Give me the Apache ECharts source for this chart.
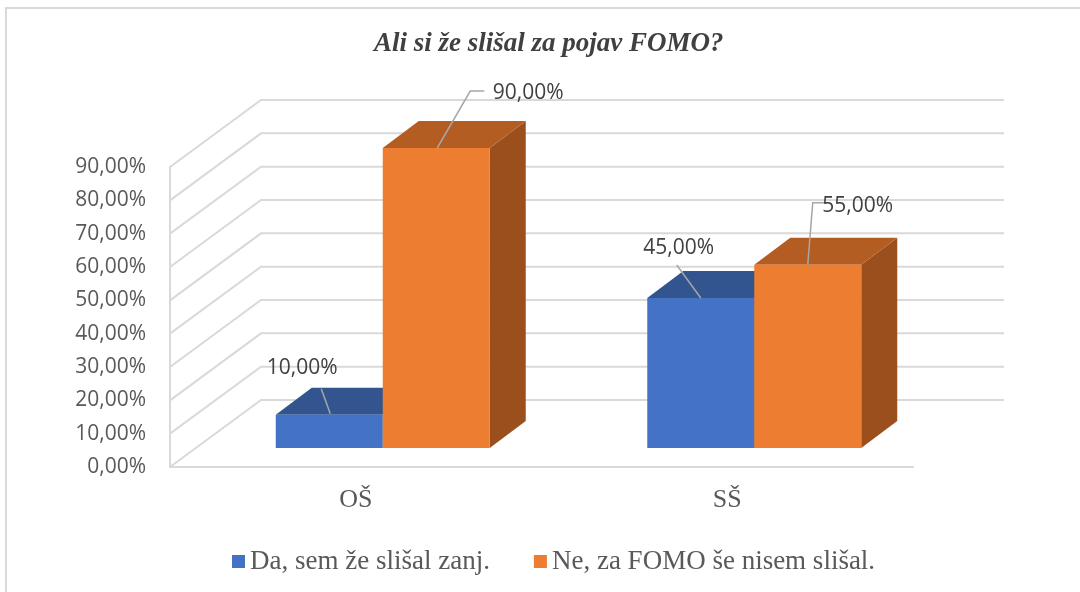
<!DOCTYPE html>
<html>
<head>
<meta charset="utf-8">
<script src="https://cdn.jsdelivr.net/npm/echarts@6/dist/echarts.min.js"></script>
<style>
  html, body { margin: 0; padding: 0; background: #fff; }
  #chart { width: 1080px; height: 592px; }
</style>
</head>
<body>
<div id="chart"></div>
<script>
// data
const categories = ['OŠ', 'SŠ'];
const seriesNames = ['Da, sem že slišal zanj.', 'Ne, za FOMO še nisem slišal.'];
const daValues = [0.10, 0.45];
const neValues = [0.90, 0.55];
const tickValues = [0, 0.1, 0.2, 0.3, 0.4, 0.5, 0.6, 0.7, 0.8, 0.9];

// looks
const wallDepth = [91, -67];     // front wall edge -> back wall
const barShift = [27, -19];      // bars sit a bit into the floor
const barDepth = [36, -27];
const faceColors = [
  { front: '#4472C4', top: '#32558F', side: '#2E4F86' },
  { front: '#ED7D31', top: '#B45D22', side: '#9A4F1D' }
];
// manual label placement (Excel style), offset from front-top centre of bar
const labelOffsets = [
  [{ line: [[1, -1], [-8, -26]], text: [-27, -47] }, { line: [[0, 0], [-24, -33]], text: [-22, -50] }],
  [{ line: [[1, 0], [34, -57], [48, -57]], text: [92, -55] }, { line: [[0, 0], [5, -62], [18, -62]], text: [50, -59] }]
];

const fmt = v => (v * 100).toFixed(2).replace('.', ',') + '%';

const chart = echarts.init(document.getElementById('chart'));

function wallItem(params, api) {
  const cs = params.coordSys;
  const y = api.coord([0, api.value(1)])[1];
  const x0 = cs.x, x1 = cs.x + cs.width;
  return {
    type: 'polyline',
    shape: { points: [[x0, y], [x0 + wallDepth[0], y + wallDepth[1]], [x1 + wallDepth[0], y + wallDepth[1]]] },
    style: { stroke: '#d9d9d9', lineWidth: 2, fill: null },
    silent: true
  };
}

function barItem(si) {
  return function (params, api) {
    const cat = api.value(0), v = api.value(1);
    const base = api.coord([cat, 0]);
    const top = api.coord([cat, v]);
    const bw = api.size([1, 0])[0] * 0.288;
    const x0 = base[0] + barShift[0] - (si === 0 ? bw : 0);
    const x1 = x0 + bw;
    const yb = base[1] + barShift[1];
    const yt = top[1] + barShift[1];
    const dx = barDepth[0], dy = barDepth[1];
    const c = faceColors[si];
    const lo = labelOffsets[si][params.dataIndex];
    const cx = (x0 + x1) / 2;
    return {
      type: 'group',
      children: [
        { type: 'polygon', shape: { points: [[x1, yt], [x1 + dx, yt + dy], [x1 + dx, yb + dy], [x1, yb]] }, style: { fill: c.side } },
        { type: 'polygon', shape: { points: [[x0, yt], [x1, yt], [x1 + dx, yt + dy], [x0 + dx, yt + dy]] }, style: { fill: c.top } },
        { type: 'rect', shape: { x: x0, y: yt, width: bw, height: yb - yt }, style: { fill: c.front } },
        { type: 'polyline', shape: { points: lo.line.map(p => [cx + p[0], yt + p[1]]) }, style: { stroke: '#a6a6a6', lineWidth: 1.5, fill: null } },
        {
          type: 'text', x: cx + lo.text[0], y: yt + lo.text[1],
          style: { text: fmt(v), fill: '#404040', font: '21px "Open Sans"', align: 'center', verticalAlign: 'middle' }
        }
      ]
    };
  };
}

chart.setOption({
  animation: false,
  title: {
    text: 'Ali si že slišal za pojav FOMO?',
    left: 374, top: 31, padding: 0,
    textStyle: { fontFamily: 'Liberation Serif', fontStyle: 'italic', fontWeight: 'bold', fontSize: 27, color: '#404040' }
  },
  legend: {
    left: 232, top: 548, padding: 0, itemGap: 44,
    itemWidth: 13, itemHeight: 13, icon: 'rect',
    data: seriesNames,
    textStyle: { fontFamily: 'Liberation Serif', fontSize: 27, color: '#595959' }
  },
  graphic: [{
    type: 'rect', shape: { x: 6, y: 8, width: 1200, height: 700 },
    style: { fill: null, stroke: '#d9d9d9', lineWidth: 2 }, silent: true
  }],
  grid: { left: 170, right: 167, top: 167, bottom: 125 },
  xAxis: {
    type: 'category', data: categories,
    axisLine: { lineStyle: { color: '#d9d9d9', width: 2 } },
    axisTick: { show: false },
    axisLabel: { margin: 20, fontFamily: 'Liberation Serif', fontSize: 26, color: '#595959' }
  },
  yAxis: {
    type: 'value', min: 0, max: 0.9, interval: 0.1,
    axisLine: { show: true, lineStyle: { color: '#d9d9d9', width: 2 } },
    axisTick: { show: false },
    splitLine: { show: false },
    axisLabel: { margin: 24, formatter: fmt, fontFamily: 'Open Sans', fontSize: 21, color: '#595959' }
  },
  series: [
    { type: 'custom', name: 'walls', z: 1, renderItem: wallItem, data: tickValues.map(t => [0, t]), silent: true },
    { type: 'custom', name: seriesNames[0], z: 2, itemStyle: { color: faceColors[0].front }, renderItem: barItem(0), data: daValues.map((v, i) => [i, v]) },
    { type: 'custom', name: seriesNames[1], z: 3, itemStyle: { color: faceColors[1].front }, renderItem: barItem(1), data: neValues.map((v, i) => [i, v]) }
  ]
});
</script>
</body>
</html>
